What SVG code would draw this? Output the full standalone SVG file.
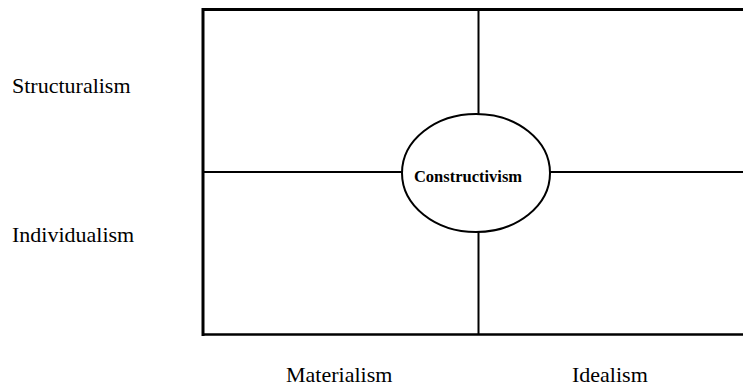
<svg xmlns="http://www.w3.org/2000/svg" width="743" height="386" viewBox="0 0 743 386">
<style>
.lbl{font-family:"Liberation Serif","Times New Roman",serif;font-size:22px;fill:#000}
.ln{stroke:#000;fill:none}
</style>
<rect width="743" height="386" fill="#fff"/>
<g id="frame">
<line class="ln" x1="202.5" y1="9.5" x2="743" y2="9.5" stroke-width="3"/>
<line class="ln" x1="203" y1="8" x2="203" y2="336" stroke-width="3"/>
<line class="ln" x1="202" y1="334.5" x2="743" y2="334.5" stroke-width="2.5"/>
</g>
<g id="connectors">
<line class="ln" x1="478.5" y1="9" x2="478.5" y2="114" stroke-width="2"/>
<line class="ln" x1="478.5" y1="232" x2="478.5" y2="335" stroke-width="2"/>
<line class="ln" x1="203" y1="172" x2="402" y2="172" stroke-width="1.8"/>
<line class="ln" x1="550" y1="172" x2="743" y2="172" stroke-width="1.8"/>
</g>
<g id="constructivism">
<ellipse class="ln" cx="476" cy="173" rx="74" ry="59" stroke-width="2"/>
<text x="468" y="182" text-anchor="middle" style="font-family:'Liberation Serif','Times New Roman',serif;font-size:16.5px;font-weight:bold">Constructivism</text>
</g>
<g id="structuralism"><text class="lbl" x="12" y="93">Structuralism</text></g>
<g id="individualism"><text class="lbl" x="12" y="242">Individualism</text></g>
<g id="materialism"><text class="lbl" x="286" y="382">Materialism</text></g>
<g id="idealism"><text class="lbl" x="572" y="382">Idealism</text></g>
</svg>
